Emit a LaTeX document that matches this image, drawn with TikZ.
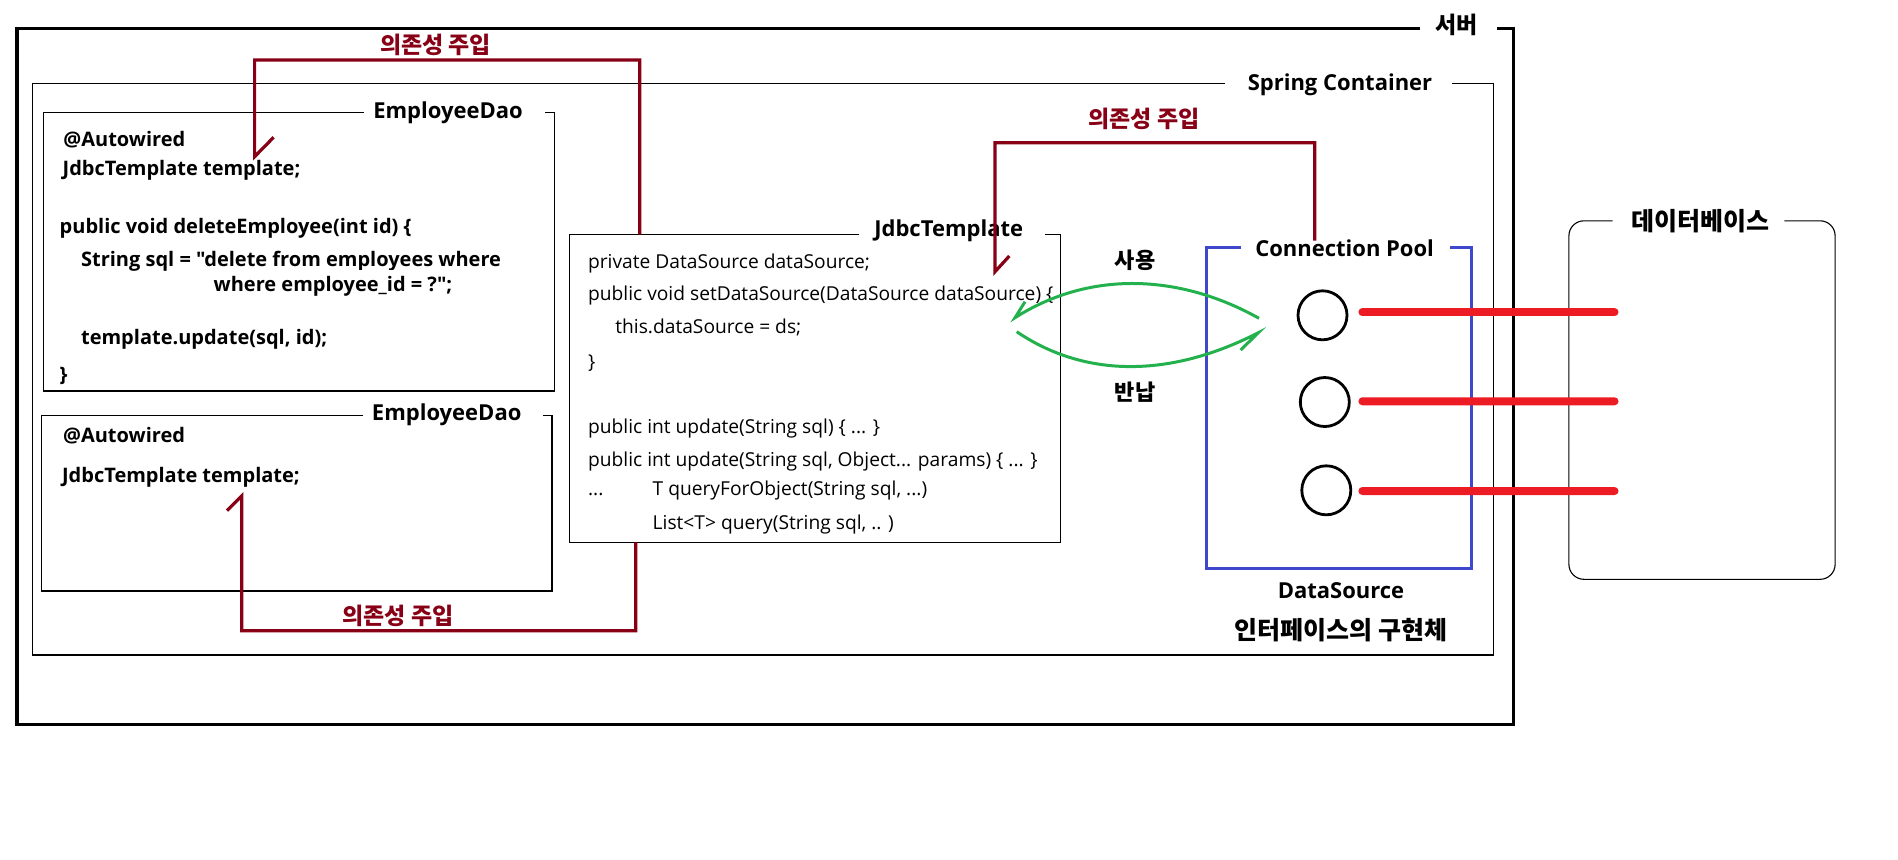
\documentclass[tikz,border=0pt]{standalone}
\usepackage{fontspec}
\setmainfont{Open Sans}[Ligatures=TeXOff]
\newfontfamily\kr{Noto Sans CJK KR}
\definecolor{injred}{HTML}{880015}
\definecolor{poolblue}{HTML}{3F48CC}
\definecolor{usegreen}{HTML}{22B14C}
\definecolor{linkred}{HTML}{ED1C24}
\begin{document}
\begin{tikzpicture}[x=0.5pt,y=-0.5pt]
          \tikzset{code/.style={anchor=base west,inner sep=0pt,font=\fontsize{9.6}{11}\selectfont},
                   daocode/.style={anchor=base west,inner sep=0pt,font=\fontsize{10}{12}\selectfont\bfseries},
                   title/.style={anchor=base,inner sep=0pt,font=\fontsize{11}{13}\selectfont\bfseries},
                   krlabel/.style={inner sep=0pt,font=\fontsize{#1}{15}\selectfont\kr\bfseries},
                   inject/.style={inner sep=0pt,text=injred,font=\fontsize{11.5}{13}\selectfont\kr\bfseries},
                   injline/.style={draw=injred,line width=1.6pt},
                   frame/.style={draw,line width=0.65pt},
                   conn/.style={draw,circle,line width=1.4pt,minimum size=24.5pt,inner sep=0pt},
                   link/.style={draw=linkred,line width=4pt,line cap=round},
                   flow/.style={draw=usegreen,line width=1.5pt}}
          \useasboundingbox (0,0) rectangle (1898,859);

          \draw[line width=1.75pt] (1419.6,28.3) -| (17,724.3) -| (1513.6,28.3) -- (1496.8,28.3);
          \node[krlabel=11.5] (server) at (1456.5,25) {서버};

          \draw[frame] (1225,83.3) -| (32.8,655) -| (1493.6,83.3) -- (1451.8,83.3);
          \node[title] (spring) at (1340,90) {Spring Container};

          \draw[frame] (364,112.7) -| (43.8,391) -| (554.7,112.7) -- (545,112.7);
          \node[title] (dao1) at (448,118.3) {EmployeeDao};
          \node[daocode] (aw1) at (63,146.7) {@Autowired};
          \node[daocode] (tmpl1) at (62.3,175) {JdbcTemplate template;};
          \node[daocode] (del) at (59.3,233.3) {public void deleteEmployee(int id) \{};
          \node[daocode] (sql) at (80.7,266.7) {String sql = "delete from employees where};
          \node[daocode,fill=white,text height=11pt] (sql2) at (213.3,291.7) {where employee\_id = ?";};
          \node[daocode] (upd) at (80.7,344) {template.update(sql, id);};
          \node[daocode] (close1) at (59.3,381) {\}};

          \draw[frame] (362.7,415.5) -| (41.2,591) -| (552,415.5) -- (543.3,415.5);
          \node[title] (dao2) at (446.7,420) {EmployeeDao};
          \node[daocode] (aw2) at (62.7,442.7) {@Autowired};
          \node[daocode] (tmpl2) at (61.7,482.7) {JdbcTemplate template;};

          \draw[frame] (859,234.7) -| (569.7,542.3) -| (1060.7,234.7) -- (1045,234.7);
          \node[title] (jdbc) at (948.7,236) {JdbcTemplate};
          \node[code] (field) at (587.7,268.3) {private DataSource dataSource;};
          \node[code] (setter) at (587.7,300.5) {public void setDataSource(DataSource dataSource) \{};
          \node[code] (assign) at (615,333.8) {this.dataSource = ds;};
          \node[code] (close2) at (587.7,368) {\}};
          \node[code] (upd1) at (587.7,433.8) {public int update(String sql) \{ ... \}};
          \node[code] (upd2) at (587.7,466.5) {public int update(String sql, Object... params) \{ ... \}};
          \node[code] (dots) at (587.7,495.8) {...};
          \node[code] (qfo) at (652.3,495.8) {T queryForObject(String sql, ...)};
          \node[code] (qlist) at (652.3,529.2) {List<T> query(String sql, .. )};

          \draw[draw=poolblue,line width=1.5pt] (1240.7,247.3) -| (1206.8,568.3) -| (1471.6,247.3) -- (1449.5,247.3);
          \node[title] (pool) at (1344.6,256.7) {Connection Pool};
          \node[conn] (c1) at (1322.5,315.3) {};
          \node[conn] (c2) at (1324.8,402) {};
          \node[conn] (c3) at (1326.3,490.3) {};
          \node[title] (ds) at (1341,598) {DataSource};
          \node[krlabel=12.5] (impl) at (1341,630) {인터페이스의 구현체};

          \draw[frame,line width=0.55pt,rounded corners=7.5pt] (1612.7,220.8) -| (1568.9,579.3) -| (1835.1,220.8) -- (1784.4,220.8);
          \node[krlabel=12.5] (db) at (1700,221.5) {데이터베이스};
          \coordinate (db1) at (1614.5,312.3);
          \coordinate (db2) at (1614.5,401.3);
          \coordinate (db3) at (1614.5,491);
          \draw[link] (c1.east) ++(14,-3) -- (db1);
          \draw[link] (c2.east) ++(11.7,-0.7) -- (db2);
          \draw[link] (c3.east) ++(10.2,0.7) -- (db3);

          \coordinate (useR) at (1259,318.3);
          \coordinate (useL) at (1015,317.7);
          \coordinate (retL) at (1016.7,331.7);
          \coordinate (retR) at (1258.3,332.7);
          \draw[flow] (useR) .. controls (1180,274) and (1090,270) .. (useL) -- ++(10,-16);
          \draw[flow] (retL) .. controls (1085,378) and (1170,378) .. (retR) -- ++(-17.6,17.3);
          \node[krlabel=11] (use) at (1135,260) {사용};
          \node[krlabel=11] (ret) at (1135,391.7) {반납};

          \coordinate (jtN) at (639.7,234.7);
          \coordinate (jtS) at (635.7,542.3);
          \coordinate (poolN) at (1314.7,240.7);
          \coordinate (tip1) at (254.6,156.7);
          \coordinate (tip2) at (995,271.7);
          \coordinate (tip3) at (241.7,496);
          \draw[injline] (jtN) -- ++(0,-174.7) -| (tip1) -- ++(19,-19.4);
          \draw[injline] (poolN) -- ++(0,-98) -| (tip2) -- ++(14.3,-15.7);
          \draw[injline] (jtS) -- ++(0,88.4) -| (tip3) -- ++(-14.7,14.7);
          \node[inject] (inj1) at (435.6,45) {의존성 주입};
          \node[inject] (inj2) at (1144,119) {의존성 주입};
          \node[inject] (inj3) at (398,616) {의존성 주입};
\end{tikzpicture}
\end{document}
